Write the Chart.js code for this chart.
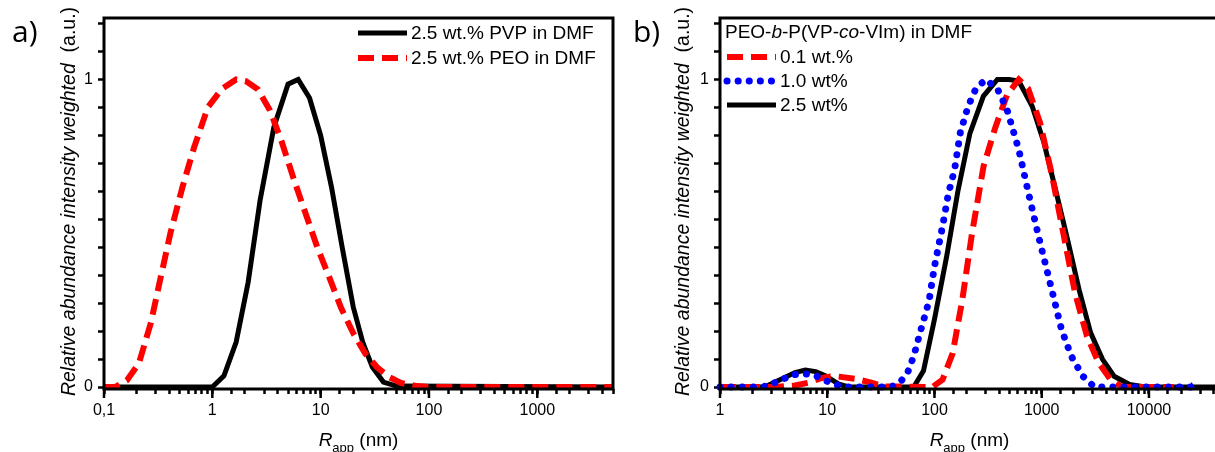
<!DOCTYPE html>
<html>
<head>
<meta charset="utf-8">
<script src="https://cdn.jsdelivr.net/npm/chart.js@4.4.1/dist/chart.umd.min.js"></script>
<style>
  html, body { margin:0; padding:0; background:#fff; overflow:hidden; width:1215px; height:452px; }
  canvas { position:absolute; top:0; }
  #chartA { left:0; }
  #chartB { left:615px; }
</style>
</head>
<body>
<canvas id="chartA" width="620" height="452"></canvas>
<canvas id="chartB" width="611" height="452"></canvas>
<script>
//____ a) homopolymers in DMF ____//
const pvpR = [0.1, 1.0, 1.28, 1.66, 2.14, 2.76, 3.7, 5.0, 6.2, 7.9, 10, 12.6, 15.8, 20, 24.6, 30, 38, 50, 5000];
const pvpY = [0, 0, 0.036, 0.146, 0.34, 0.607, 0.845, 0.985, 1.0, 0.94, 0.818, 0.65, 0.455, 0.26, 0.143, 0.065, 0.016, 0.003, 0];
const peoR = [0.1, 0.126, 0.163, 0.21, 0.27, 0.334, 0.41, 0.53, 0.68, 0.91, 1.23, 1.66, 2.04, 2.63, 3.4, 4.35, 5.6, 7.25, 9.3, 12.1, 15.5, 20, 25.7, 33, 42.6, 55, 77, 100, 5000];
const peoY = [0, 0, 0.022, 0.077, 0.207, 0.357, 0.5, 0.65, 0.78, 0.91, 0.97, 1.0, 0.995, 0.968, 0.9, 0.8, 0.68, 0.565, 0.455, 0.354, 0.256, 0.175, 0.11, 0.065, 0.033, 0.013, 0.003, 0, 0];

//____ b) PEO-b-P(VP-co-VIm) in DMF ____//
const c01R = [1, 3.3, 5, 6.7, 8.5, 10, 12, 18, 25.8, 34, 96, 119, 148, 182, 224, 287, 370, 475, 611, 748, 964, 1245, 1590, 2045, 2640, 3390, 4360, 5600, 17000];
const c01Y = [0, 0, 0.005, 0.014, 0.027, 0.033, 0.035, 0.027, 0.014, 0.002, 0, 0.024, 0.11, 0.285, 0.5, 0.718, 0.845, 0.95, 1.0, 0.97, 0.86, 0.69, 0.5, 0.306, 0.166, 0.079, 0.025, 0, 0];
const c10R = [1, 2.5, 3.05, 3.9, 4.9, 6.2, 7.7, 9.9, 12.7, 15.8, 39.5, 49, 56.6, 64, 72.5, 89, 100, 119, 135, 154, 174, 206, 243, 300, 386, 475, 611, 753, 966, 1240, 1530, 1890, 2420, 3100, 25000];
const c10Y = [0, 0, 0.01, 0.026, 0.04, 0.043, 0.038, 0.019, 0.005, 0, 0, 0.02, 0.05, 0.1, 0.17, 0.28, 0.392, 0.523, 0.63, 0.707, 0.827, 0.913, 0.97, 1.0, 0.97, 0.902, 0.772, 0.63, 0.469, 0.317, 0.187, 0.1, 0.035, 0, 0];
const c25R = [1, 2.6, 3.8, 5, 6.25, 7.8, 9.6, 12.7, 15.8, 64, 79, 100, 130, 166, 214, 286, 386, 496, 611, 815, 1050, 1350, 1740, 2230, 2860, 3690, 4730, 6600, 9270, 45000];
const c25Y = [0, 0, 0.027, 0.047, 0.055, 0.05, 0.037, 0.01, 0, 0, 0.053, 0.22, 0.425, 0.64, 0.825, 0.946, 1.0, 1.0, 0.995, 0.913, 0.794, 0.64, 0.48, 0.317, 0.176, 0.09, 0.035, 0.008, 0, 0];

//____ tick labels ____//
const tickLabelsA = ['0,1', '1', '10', '100', '1000'];
const tickLabelsB = ['1', '10', '100', '1000', '10000'];
const yTickLabels = ['0', '1'];

const FONT = '"Liberation Sans", Arial, sans-serif';

function pts(xs, ys){
    return xs.map(function(x, i){ return {x: x, y: ys[i]}; });
}

function isPow10(v){
    const l = Math.log10(v);
    return Math.abs(l - Math.round(l)) < 1e-9;
}

// draws a row of text pieces with different fonts
function drawRuns(ctx, runs, x, y, align){
    let w = 0;
    runs.forEach(function(r){ ctx.font = r.font; w += ctx.measureText(r.text).width; });
    let cx = align === 'center' ? x - w / 2 : x;
    runs.forEach(function(r){
        ctx.font = r.font;
        ctx.fillText(r.text, cx, y + (r.dy || 0));
        cx += ctx.measureText(r.text).width;
    });
}

//____ frame, titles, panel letter, legend ____//
const decor = {
    id: 'decor',
    afterDatasetsDraw(chart, args, opts){
        const ctx = chart.ctx, a = chart.chartArea;
        ctx.save();
        ctx.strokeStyle = '#000';
        ctx.lineWidth = 3;
        ctx.setLineDash([]);
        ctx.strokeRect(a.left, a.top, a.right - a.left, a.bottom - a.top);

        // longer marks for the decades
        const xs = chart.scales.x;
        ctx.lineWidth = 2.5;
        xs.ticks.forEach(function(t){
            if (!isPow10(t.value)) return;
            const px = xs.getPixelForValue(t.value);
            ctx.beginPath();
            ctx.moveTo(px, a.bottom);
            ctx.lineTo(px, a.bottom + 9);
            ctx.stroke();
        });

        ctx.fillStyle = '#000';
        ctx.textBaseline = 'alphabetic';
        // x title
        drawRuns(ctx, [
            {text: 'R', font: 'italic 19px ' + FONT},
            {text: 'app', font: '13px ' + FONT, dy: 6},
            {text: ' (nm)', font: '19px ' + FONT}
        ], (a.left + a.right) / 2, 446, 'center');

        // y title
        ctx.save();
        ctx.translate(opts.yTitleX, (a.top + a.bottom) / 2 - 2);
        ctx.rotate(-Math.PI / 2);
        ctx.textBaseline = 'middle';
        drawRuns(ctx, [
            {text: 'Relative abundance intensity weighted', font: 'italic 19.5px ' + FONT},
            {text: '  (a.u.)', font: '19.5px ' + FONT}
        ], 0, 0, 'center');
        ctx.restore();

        // panel letter
        ctx.font = '30px "Open Sans", sans-serif';
        ctx.textBaseline = 'alphabetic';
        ctx.fillText(opts.letter, opts.letterX, 42);

        // legend
        ctx.textBaseline = 'middle';
        if (opts.legendTitle){
            drawRuns(ctx, opts.legendTitle, opts.legendTitleX, opts.legendTitleY, 'left');
        }
        opts.legend.forEach(function(item, i){
            const ds = chart.data.datasets[item.index];
            const y = opts.legendY + i * opts.legendStep;
            ctx.save();
            ctx.strokeStyle = ds.borderColor;
            ctx.lineWidth = ds.borderWidth;
            ctx.lineCap = ds.borderCapStyle || 'butt';
            ctx.setLineDash(ds.borderDash || []);
            ctx.beginPath();
            ctx.moveTo(opts.sampleX0, y);
            ctx.lineTo(opts.sampleX1, y);
            ctx.stroke();
            ctx.restore();
            ctx.font = '19px ' + FONT;
            ctx.fillStyle = '#000';
            ctx.fillText(ds.label, opts.textX, y + 1);
        });
        ctx.restore();
    }
};

function makeOptions(xMin, xMax, xLabels, yWidth, padRight, decorOpts){
    return {
        responsive: false,
        animation: false,
        layout: { padding: { top: 18, right: padRight, left: 0, bottom: 0 } },
        plugins: {
            legend: { display: false },
            tooltip: { enabled: false },
            decor: decorOpts
        },
        elements: { point: { radius: 0 }, line: { tension: 0 } },
        scales: {
            x: {
                type: 'logarithmic',
                min: xMin,
                max: xMax,
                border: { display: false },
                grid: { drawOnChartArea: false, drawTicks: true, tickLength: 5, tickWidth: 2.5, tickColor: '#000' },
                ticks: {
                    autoSkip: false,
                    maxRotation: 0,
                    padding: 7,
                    color: '#000',
                    font: { family: FONT, size: 16 },
                    callback: function(v){
                        if (!isPow10(v)) return '';
                        const idx = Math.round(Math.log10(v)) - Math.round(Math.log10(xMin));
                        return xLabels[idx] || '';
                    }
                },
                afterFit: function(s){ s.height = 63; }
            },
            y: {
                min: -0.0065,
                max: 1.2,
                border: { display: false },
                grid: { drawOnChartArea: false, drawTicks: true, tickLength: 6, tickWidth: 2.5, tickColor: '#000' },
                afterBuildTicks: function(axis){
                    const t = [];
                    for (let i = 0; i <= 13; i++) t.push({ value: i / 11 });
                    axis.ticks = t;
                },
                ticks: {
                    padding: 5,
                    color: '#000',
                    font: { family: FONT, size: 16 },
                    callback: function(v){
                        if (Math.abs(v) < 1e-9) return yTickLabels[0];
                        if (Math.abs(v - 1) < 1e-9) return yTickLabels[1];
                        return '';
                    }
                },
                afterFit: function(s){ s.width = yWidth; }
            }
        }
    };
}

//____ chart a ____//
new Chart(document.getElementById('chartA'), {
    type: 'line',
    data: {
        datasets: [
            { label: '2.5 wt.% PEO in DMF', data: pts(peoR, peoY), borderColor: '#ff0000', borderWidth: 6, borderDash: [16, 8], order: 0, clip: 6 },
            { label: '2.5 wt.% PVP in DMF', data: pts(pvpR, pvpY), borderColor: '#000000', borderWidth: 5, order: 1, clip: 6 }
        ]
    },
    options: makeOptions(0.1, 5000, tickLabelsA, 104, 7, {
        letter: 'a)', letterX: 12, yTitleX: 70,
        legend: [{ index: 1 }, { index: 0 }],
        legendY: 33, legendStep: 25,
        sampleX0: 358, sampleX1: 407, textX: 411
    }),
    plugins: [decor]
});

//____ chart b ____//
const lastBlue = c10R.length - 1;
new Chart(document.getElementById('chartB'), {
    type: 'line',
    data: {
        datasets: [
            { label: '0.1 wt.%', data: pts(c01R, c01Y), borderColor: '#ff0000', borderWidth: 6, borderDash: [16, 8], order: 1, clip: 6 },
            { label: '1.0 wt%', data: pts(c10R, c10Y), borderColor: '#0000ff', borderWidth: 7, borderDash: [0.1, 11], borderCapStyle: 'round', order: 0, clip: 6,
              pointStyle: 'triangle', pointBackgroundColor: '#0000ff', pointBorderWidth: 0,
              pointRadius: function(c){ return c.dataIndex === lastBlue ? 5 : 0; } },
            { label: '2.5 wt%', data: pts(c25R, c25Y), borderColor: '#000000', borderWidth: 5, order: 2, clip: 6 }
        ]
    },
    options: makeOptions(1, 45000, tickLabelsB, 105, 5, {
        letter: 'b)', letterX: 18, yTitleX: 69,
        legendTitle: [
            { text: 'PEO-', font: '19px ' + FONT },
            { text: 'b', font: 'italic 19px ' + FONT },
            { text: '-P(VP-', font: '19px ' + FONT },
            { text: 'co', font: 'italic 19px ' + FONT },
            { text: '-VIm) in DMF', font: '19px ' + FONT }
        ],
        legendTitleX: 110, legendTitleY: 33,
        legend: [{ index: 0 }, { index: 1 }, { index: 2 }],
        legendY: 57, legendStep: 24,
        sampleX0: 112, sampleX1: 161, textX: 165
    }),
    plugins: [decor]
});
</script>
</body>
</html>
